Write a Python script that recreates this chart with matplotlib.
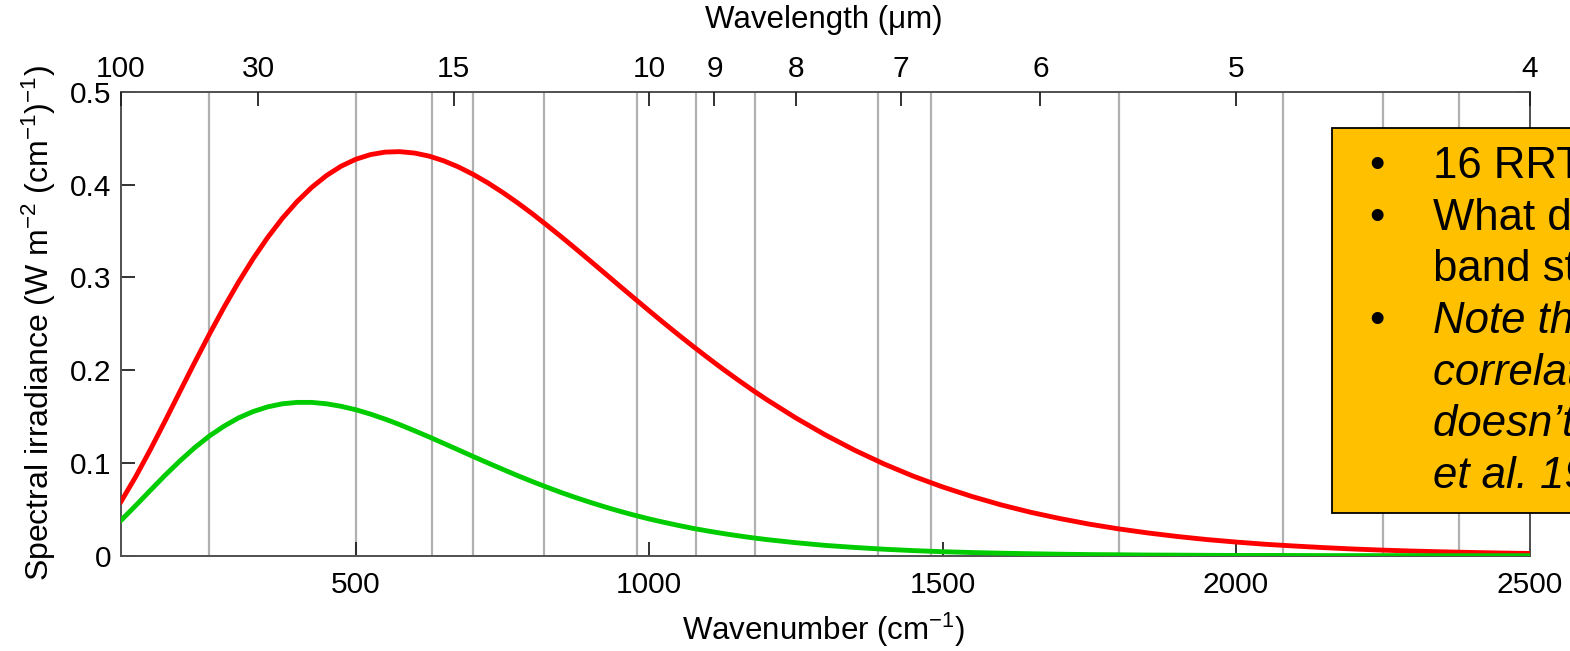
import matplotlib
matplotlib.use("Agg")
import matplotlib.pyplot as plt
from matplotlib.patches import Rectangle

plt.rcParams['font.family'] = ['Liberation Sans', 'DejaVu Sans']
plt.rcParams['mathtext.fontset'] = 'custom'
plt.rcParams['mathtext.rm'] = 'Liberation Sans'
plt.rcParams['mathtext.it'] = 'Liberation Sans:italic'

# wavenumber grid (cm-1) and the two spectral irradiance curves
# (denser sampling where the curves bend most)
wavenumber = [100, 125, 150, 175, 200, 225, 250, 275, 300, 325, 350, 375, 400, 425, 450,
              475, 500, 525, 550, 575, 600, 625, 650, 675, 700, 725, 750, 775, 800, 825,
              850, 875, 900, 925, 950, 975, 1000, 1025, 1050, 1075, 1100, 1125, 1150, 1175,
              1200, 1250, 1300, 1350, 1400, 1450, 1500, 1550, 1600, 1650, 1700, 1750, 1800,
              1850, 1900, 1950, 2000, 2050, 2100, 2150, 2200, 2250, 2300, 2350, 2400, 2450,
              2500]
red_curve = [0.0583, 0.0851, 0.1143, 0.1450, 0.1764, 0.2076, 0.2380, 0.2671, 0.2945, 0.3199,
             0.3430, 0.3636, 0.3816, 0.3969, 0.4096, 0.4197, 0.4272, 0.4322, 0.4349, 0.4354,
             0.4339, 0.4306, 0.4255, 0.4189, 0.4109, 0.4018, 0.3916, 0.3806, 0.3689, 0.3565,
             0.3438, 0.3307, 0.3174, 0.3040, 0.2905, 0.2772, 0.2639, 0.2508, 0.2380, 0.2255,
             0.2133, 0.2014, 0.1900, 0.1789, 0.1683, 0.1484, 0.1302, 0.1137, 0.0989, 0.0857,
             0.0741, 0.0638, 0.0547, 0.0468, 0.0400, 0.0340, 0.0289, 0.0245, 0.0207, 0.0174,
             0.0147, 0.0123, 0.0104, 0.0087, 0.0072, 0.0060, 0.0050, 0.0042, 0.0035, 0.0029,
             0.0024]
green_curve = [0.0380, 0.0540, 0.0704, 0.0866, 0.1019, 0.1161, 0.1287, 0.1394, 0.1484, 0.1553,
               0.1604, 0.1637, 0.1652, 0.1652, 0.1637, 0.1610, 0.1573, 0.1526, 0.1472, 0.1412,
               0.1347, 0.1280, 0.1210, 0.1140, 0.1069, 0.1000, 0.0932, 0.0865, 0.0801, 0.0740,
               0.0681, 0.0626, 0.0574, 0.0525, 0.0479, 0.0436, 0.0396, 0.0360, 0.0326, 0.0294,
               0.0266, 0.0240, 0.0216, 0.0194, 0.0174, 0.0140, 0.0111, 0.0089, 0.0070, 0.0055,
               0.0043, 0.0034, 0.0027, 0.0021, 0.0016, 0.0012, 0.0010, 0.0007, 0.0006, 0.0004,
               0.0003, 0.0003, 0.0002, 0.0001, 0.0001, 0.0001, 0.0001, 0.0000, 0.0000, 0.0000,
               0.0000]

# RRTM longwave band edges (cm-1)
band_edges = [250, 500, 630, 700, 820, 980, 1080, 1180, 1390, 1480, 1800, 2080, 2250, 2380]

x_ticks = [500, 1000, 1500, 2000, 2500]
y_ticks = [0, 0.1, 0.2, 0.3, 0.4, 0.5]
y_tick_labels = ['0', '0.1', '0.2', '0.3', '0.4', '0.5']
wavelength_ticks = [100, 30, 15, 10, 9, 8, 7, 6, 5, 4]

box_lines = [
    ('16 RRTM bands', 'normal', True),
    ('What determines the', 'normal', True),
    ('band structure?', 'normal', False),
    ('Note that the', 'italic', True),
    ('correlated-k method', 'italic', False),
    ('doesn\u2019t (Mlawer', 'italic', False),
    ('et al. 1997)', 'italic', False),
]

W, H = 1570, 651
fig = plt.figure(figsize=(W / 100, H / 100), dpi=100)
ax = fig.add_axes([121 / W, 1 - 555.7 / H, (1529.5 - 121) / W, (555.7 - 91.7) / H])

for edge in band_edges:
    ax.axvline(edge, color='#b0b0b0', lw=1.6, zorder=1)

ax.plot(wavenumber, red_curve, color='#ff0000', lw=3.5, zorder=3)
ax.plot(wavenumber, green_curve, color='#00cc00', lw=3.5, zorder=3)

ax.set_xlim(100, 2500)
ax.set_ylim(0, 0.5)
ax.set_xticks(x_ticks)
ax.set_yticks(y_ticks)
ax.set_yticklabels(y_tick_labels)
ax.tick_params(axis='both', direction='in', length=10, width=1.3, color='#222222',
               labelsize=21.5, top=False, right=True)
ax.tick_params(axis='x', pad=11)
ax.tick_params(axis='y', pad=7)
for s in ax.spines.values():
    s.set_color('#505050')
    s.set_linewidth(1.4)

ax_top = ax.twiny()
ax_top.set_xlim(100, 2500)
ax_top.set_xticks([1e4 / w for w in wavelength_ticks])
ax_top.set_xticklabels([str(w) for w in wavelength_ticks])
ax_top.tick_params(axis='x', direction='in', length=10, width=1.3, color='#222222',
                   labelsize=21.5, pad=6)
for s in ax_top.spines.values():
    s.set_visible(False)

fig.text(824 / W, 1 - 20 / H, 'Wavelength (\u03bcm)', ha='center', va='center', fontsize=22.5)
fig.text(824 / W, 1 - 630 / H, 'Wavenumber (cm$^{-1}$)', ha='center', va='center',
         fontsize=22.5)
fig.text(39 / W, 1 - 323 / H, 'Spectral irradiance (W m$^{-2}$ (cm$^{-1}$)$^{-1}$)',
         ha='center', va='center', rotation=90, fontsize=23)

# orange note box running off the right edge
fig.patches.append(Rectangle((1332 / W, 1 - 513 / H), (W - 1332 + 50) / W, (513 - 127.7) / H,
                             transform=fig.transFigure, facecolor='#ffc000',
                             edgecolor='black', lw=1.3, zorder=5))
baseline = 178
for text, style, bullet in box_lines:
    if bullet:
        fig.text(1377 / W, 1 - baseline / H, '\u2022', ha='center', va='baseline',
                 fontsize=31.5, zorder=6)
    fig.text(1433 / W, 1 - baseline / H, text, ha='left', va='baseline',
             fontsize=31.5, style=style, zorder=6)
    baseline += 51.7

fig.savefig('out.png', dpi=100)
